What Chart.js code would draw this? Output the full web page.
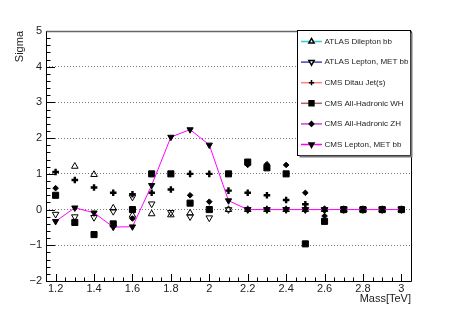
<!DOCTYPE html>
<html>
<head>
<meta charset="utf-8">
<script src="https://cdn.jsdelivr.net/npm/chart.js@4.4.0/dist/chart.umd.min.js"></script>
<style>
  html, body { margin: 0; padding: 0; background: #fff; }
  #wrap { width: 457px; height: 312px; }
</style>
</head>
<body>
<div id="wrap"><canvas id="sigmaChart"></canvas></div>
<script>
/* ---- data ---- */
const masses = [1.2, 1.3, 1.4, 1.5, 1.6, 1.7, 1.8, 1.9, 2.0, 2.1, 2.2, 2.3, 2.4, 2.5, 2.6, 2.7, 2.8, 2.9, 3.0];

const atlasDilepton = [null, 1.21, 0.98, 0.04, -0.16, -0.12, -0.15, -0.1, 0, 0, 0, 0, 0, 0, 0, 0, 0, 0, 0];
const atlasLeptonMet = [-0.13, -0.2, -0.22, -0.05, 0.35, 0.16, -0.08, -0.2, -0.23, 0, 0, 0, 0, 0, 0, 0, 0, 0, 0];
const cmsDitau = [1.05, 0.83, 0.62, 0.47, 0.43, 0.47, 0.56, 1.0, 1.0, 0.53, 0.47, 0.4, 0.27, 0.15, 0, 0, 0, 0, 0];
const cmsHadronicWH = [0.4, -0.36, -0.7, -0.4, 0.0, 1.0, 1.0, 0.18, 0.0, 1.0, 1.33, 1.17, 1.0, -0.96, -0.33, 0, 0, 0, 0];
const cmsHadronicZH = [0.6, null, null, null, -0.25, null, null, 0.4, 0.22, null, 1.25, 1.27, 1.25, 0.47, -0.18, 0, 0, 0, 0];
const cmsLeptonMet = [-0.33, 0.05, -0.09, -0.49, -0.48, 0.68, 2.03, 2.24, 1.81, 0.25, 0, 0, 0, 0, 0, 0, 0, 0, 0];

const seriesNames = [
  "ATLAS Dilepton bb",
  "ATLAS Lepton, MET bb",
  "CMS Ditau Jet(s)",
  "CMS All-Hadronic WH",
  "CMS All-Hadronic ZH",
  "CMS Lepton, MET bb"
];

const xTickLabels = [1.2, 1.4, 1.6, 1.8, 2.0, 2.2, 2.4, 2.6, 2.8, 3.0];

/* ---- styling ---- */
const FONT = "'Liberation Sans', Arial, Helvetica, sans-serif";
const legendColors = ["#33cccc", "#4444aa", "#ff8080", "#aa6666", "#cc44cc", "#ff00ff"];

const markerStyles = [
  { pointStyle: "triangle", rotation: 0,   radius: 3.8, fill: "rgba(0,0,0,0)", width: 1 },
  { pointStyle: "triangle", rotation: 180, radius: 3.8, fill: "rgba(0,0,0,0)", width: 1 },
  { pointStyle: "cross",    rotation: 0,   radius: 3.3, fill: "#000",          width: 2.4 },
  { pointStyle: "rect",     rotation: 0,   radius: 4.3, fill: "#000",          width: 1 },
  { pointStyle: "rectRot",  rotation: 0,   radius: 2.8, fill: "#000",          width: 1 },
  { pointStyle: "triangle", rotation: 180, radius: 3.6, fill: "#000",          width: 1 }
];

const seriesData = [atlasDilepton, atlasLeptonMet, cmsDitau, cmsHadronicWH, cmsHadronicZH, cmsLeptonMet];

const toPoints = arr => masses.map((m, i) => ({ x: m, y: arr[i] }));

const datasets = seriesData.map((arr, i) => {
  const m = markerStyles[i];
  const isLine = i === 5;
  return {
    label: seriesNames[i],
    data: toPoints(arr),
    showLine: isLine,
    borderColor: isLine ? "#ff00ff" : "#000",
    borderWidth: 1,
    pointStyle: m.pointStyle,
    rotation: m.rotation,
    pointRadius: m.radius,
    pointHoverRadius: m.radius,
    pointBackgroundColor: m.fill,
    pointBorderColor: "#000",
    pointBorderWidth: m.width,
    order: 6 - i
  };
});

/* ---- ROOT-like frame with inward ticks ---- */
const frameTicks = {
  id: "frameTicks",
  beforeDatasetsDraw(chart) {
    const { ctx, chartArea: a, scales: { x, y } } = chart;
    ctx.save();
    ctx.strokeStyle = "#000";
    ctx.lineWidth = 1;

    // y ticks every 0.2, major at integers
    for (let k = -10; k <= 25; k++) {
      const py = Math.round(y.getPixelForValue(k / 5)) + 0.5;
      const len = k % 5 === 0 ? 9 : 4.5;
      ctx.beginPath();
      ctx.moveTo(a.left, py);
      ctx.lineTo(a.left + len, py);
      ctx.stroke();
    }
    // x ticks every 0.05, major every 0.2
    for (let k = 23; k <= 61; k++) {
      const px = Math.round(x.getPixelForValue(k * 0.05)) + 0.5;
      const len = k % 4 === 0 ? 7 : 3.5;
      ctx.beginPath();
      ctx.moveTo(px, a.bottom);
      ctx.lineTo(px, a.bottom - len);
      ctx.stroke();
    }

    // frame
    const L = Math.round(a.left) + 0.5, R = Math.round(a.right) + 0.5;
    const T = Math.round(a.top) + 0.5, B = Math.round(a.bottom) + 0.5;
    ctx.beginPath();
    ctx.moveTo(L, T); ctx.lineTo(L, B); ctx.lineTo(R, B); ctx.lineTo(R, T);
    ctx.stroke();
    ctx.strokeStyle = "#666";
    ctx.lineWidth = 1.5;
    ctx.beginPath();
    ctx.moveTo(L, T); ctx.lineTo(R, T);
    ctx.stroke();
    ctx.restore();
  }
};

/* ---- legend box in the upper right ---- */
const boxLegend = {
  id: "boxLegend",
  afterDraw(chart) {
    const ctx = chart.ctx;
    const left = 297.5, top = 30.5, right = 410.5, bottom = 155.5;
    ctx.save();
    ctx.fillStyle = "#fff";
    ctx.fillRect(left, top, right - left, bottom - top);
    ctx.strokeStyle = "#000";
    ctx.lineWidth = 1;
    ctx.strokeRect(left, top, right - left, bottom - top);
    // shadow
    ctx.strokeStyle = "#777";
    ctx.lineWidth = 2;
    ctx.beginPath();
    ctx.moveTo(left + 2, bottom + 1);
    ctx.lineTo(right + 1, bottom + 1);
    ctx.lineTo(right + 1, top + 2);
    ctx.stroke();

    ctx.font = "8px " + FONT;
    ctx.textBaseline = "middle";
    ctx.textAlign = "left";

    seriesNames.forEach((name, i) => {
      const cy = 41.5 + i * 20.6;
      const m = markerStyles[i];
      ctx.strokeStyle = legendColors[i];
      ctx.lineWidth = 1.5;
      ctx.beginPath();
      ctx.moveTo(301, cy);
      ctx.lineTo(322, cy);
      ctx.stroke();

      ctx.fillStyle = m.fill === "#000" ? "#000" : "#fff";
      ctx.strokeStyle = "#000";
      Chart.helpers.drawPoint(ctx, {
        pointStyle: m.pointStyle,
        rotation: m.rotation,
        radius: m.radius * 0.8,
        borderWidth: m.width
      }, 311.5, cy);

      ctx.fillStyle = "#222";
      ctx.fillText(name, 324.5, cy);
    });
    ctx.restore();
  }
};

const fmtY = v => (v < 0 ? "\u2212" + (-v) : String(v));

new Chart(document.getElementById("sigmaChart"), {
  type: "scatter",
  data: { datasets },
  options: {
    responsive: true,
    maintainAspectRatio: false,
    animation: false,
    events: [],
    layout: { padding: { top: 31, right: 46, left: 0, bottom: 0 } },
    plugins: {
      legend: { display: false },
      tooltip: { enabled: false }
    },
    scales: {
      x: {
        type: "linear",
        min: 1.15,
        max: 3.05,
        afterFit: s => { s.height = 31; },
        afterBuildTicks: s => { s.ticks = xTickLabels.map(v => ({ value: v })); },
        grid: { display: false, drawTicks: false },
        border: { display: false },
        ticks: {
          padding: 1,
          autoSkip: false,
          maxRotation: 0,
          color: "#222",
          font: { family: FONT, size: 11 },
          callback: v => String(+v.toFixed(1))
        },
        title: {
          display: true,
          text: "Mass[TeV]",
          align: "end",
          color: "#222",
          font: { family: FONT, size: 11 },
          padding: { top: 0, bottom: 6 }
        }
      },
      y: {
        type: "linear",
        min: -2,
        max: 5,
        afterFit: s => { s.width = 46; },
        grid: {
          drawTicks: false,
          color: c => (c.tick && (c.tick.value === -2 || c.tick.value === 5)) ? "rgba(0,0,0,0)" : "#777",
          lineWidth: 1
        },
        border: { display: false, dash: [1, 2] },
        ticks: {
          stepSize: 1,
          padding: 4,
          color: "#222",
          font: { family: FONT, size: 11 },
          callback: fmtY
        },
        title: {
          display: true,
          text: "Sigma",
          align: "end",
          color: "#222",
          font: { family: FONT, size: 11 },
          padding: { top: 13, bottom: 0 }
        }
      }
    }
  },
  plugins: [frameTicks, boxLegend]
});
</script>
</body>
</html>
